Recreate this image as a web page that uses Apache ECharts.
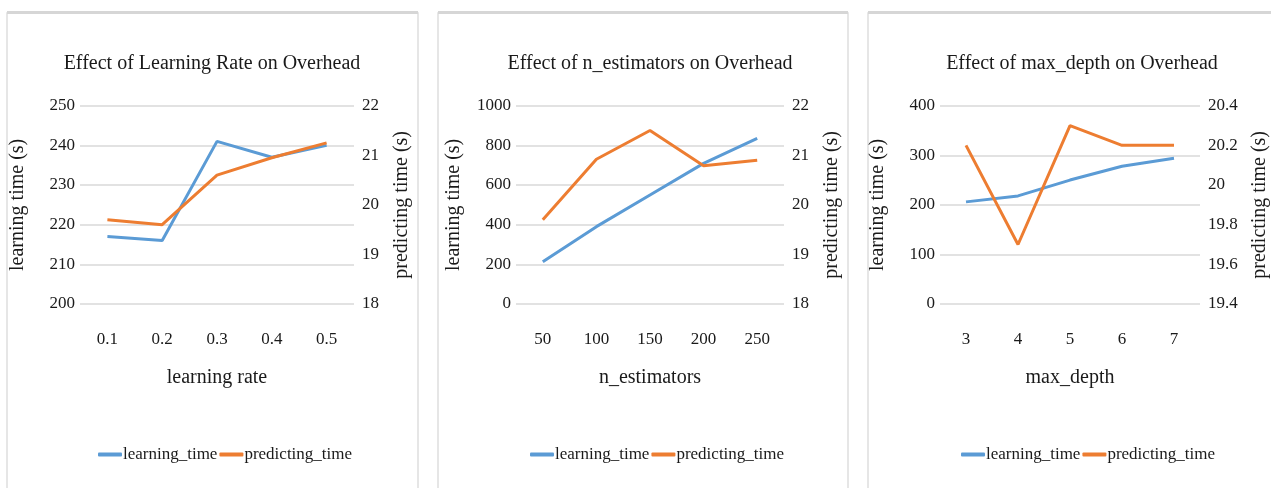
<!DOCTYPE html>
<html><head><meta charset="utf-8">
<script src="https://cdn.jsdelivr.net/npm/echarts@6/dist/echarts.min.js"></script>
<style>html,body{margin:0;padding:0;background:#fff}#c{width:1271px;height:488px}</style>
</head><body><div id="c"></div>
<script>
const titles = ['Effect of Learning Rate on Overhead','Effect of n_estimators on Overhead','Effect of max_depth on Overhead'];
const xNames = ['learning rate','n_estimators','max_depth'];
const cats1 = ['0.1','0.2','0.3','0.4','0.5'];
const cats2 = ['50','100','150','200','250'];
const cats3 = ['3','4','5','6','7'];
const learn1 = [217,216,241,237,240];
const pred1 = [19.7,19.6,20.6,20.95,21.25];
const learn2 = [213,390,550,709,835];
const pred2 = [19.7,20.92,21.5,20.79,20.9];
const learn3 = [206,218,250,278,294];
const pred3 = [20.2,19.7,20.3,20.2,20.2];
const leftAxes = [{min:200,max:250,interval:10},{min:0,max:1000,interval:200},{min:0,max:400,interval:100}];
const rightAxes = [{min:18,max:22,interval:1},{min:18,max:22,interval:1},{min:19.4,max:20.4,interval:0.2}];

const cats=[cats1,cats2,cats3], learns=[learn1,learn2,learn3], preds=[pred1,pred2,pred3];
const grids=[{left:80,width:274},{left:516,width:268},{left:940,width:264}];
const panels=[[7,418],[438,848],[868,1280]];
const legendLeft=[98,530,961];
const titleCenter=[207,645,1077];
const font='"Liberation Serif","DejaVu Serif",serif';
const txt='#1a1a1a';
const fmt=v=>String(Math.round(v*10)/10);
const option={animation:false,backgroundColor:'#fff',title:[],legend:[],grid:[],xAxis:[],yAxis:[],series:[],graphic:[]};
for(let i=0;i<3;i++){
  const [pl,pr]=panels[i];
  option.graphic.push({type:'rect',shape:{x:pl,y:13,width:pr-pl,height:490},style:{fill:'#fff',stroke:'#dedede',lineWidth:1.5},z:-10});
  option.graphic.push({type:'rect',shape:{x:pl,y:11,width:pr-pl,height:3},style:{fill:'#d6d6d6'},z:-9});
  option.title.push({text:titles[i],left:titleCenter[i],textAlign:'center',top:49,textStyle:{fontFamily:font,fontSize:20,fontWeight:'normal',color:txt}});
  option.legend.push({left:legendLeft[i],top:446,width:400,padding:0,orient:'horizontal',icon:'roundRect',itemWidth:24,itemHeight:4,itemGap:2,
    data:['learning_time'+'\u200b'.repeat(i),'predicting_time'+'\u200b'.repeat(i)],
    textStyle:{fontFamily:font,fontSize:17,color:txt,padding:[0,0,0,-4]},selectedMode:false});
  option.grid.push({left:grids[i].left,width:grids[i].width,top:105.7,height:198.3});
  option.xAxis.push({type:'category',gridIndex:i,data:cats[i],boundaryGap:true,axisLine:{show:false},axisTick:{show:false},
    axisLabel:{fontFamily:font,fontSize:17,color:txt,margin:27},name:xNames[i],nameLocation:'middle',nameGap:64,
    nameTextStyle:{fontFamily:font,fontSize:20,color:txt}});
  option.yAxis.push({type:'value',gridIndex:i,position:'left',min:leftAxes[i].min,max:leftAxes[i].max,interval:leftAxes[i].interval,
    axisLine:{show:false},axisTick:{show:false},splitLine:{lineStyle:{color:'#d9d9d9',width:1.5}},
    axisLabel:{fontFamily:font,fontSize:17,color:txt,margin:5,formatter:fmt},name:'learning time (s)',nameLocation:'middle',nameGap:52,nameRotate:90,
    nameTextStyle:{fontFamily:font,fontSize:20,color:txt}});
  option.yAxis.push({type:'value',gridIndex:i,position:'right',min:rightAxes[i].min,max:rightAxes[i].max,interval:rightAxes[i].interval,
    axisLine:{show:false},axisTick:{show:false},splitLine:{show:false},
    axisLabel:{fontFamily:font,fontSize:17,color:txt,margin:8,formatter:fmt},name:'predicting time (s)',nameLocation:'middle',nameGap:i===2?50:38,nameRotate:90,
    nameTextStyle:{fontFamily:font,fontSize:20,color:txt}});
  option.series.push({type:'line',name:'learning_time'+'\u200b'.repeat(i),xAxisIndex:i,yAxisIndex:2*i,data:learns[i],symbol:'none',
    lineStyle:{color:'#5b9bd5',width:3},itemStyle:{color:'#5b9bd5'}});
  option.series.push({type:'line',name:'predicting_time'+'\u200b'.repeat(i),xAxisIndex:i,yAxisIndex:2*i+1,data:preds[i],symbol:'none',
    lineStyle:{color:'#ed7d31',width:3},itemStyle:{color:'#ed7d31'}});
}
const chart=echarts.init(document.getElementById('c'));
chart.setOption(option);
</script></body></html>
